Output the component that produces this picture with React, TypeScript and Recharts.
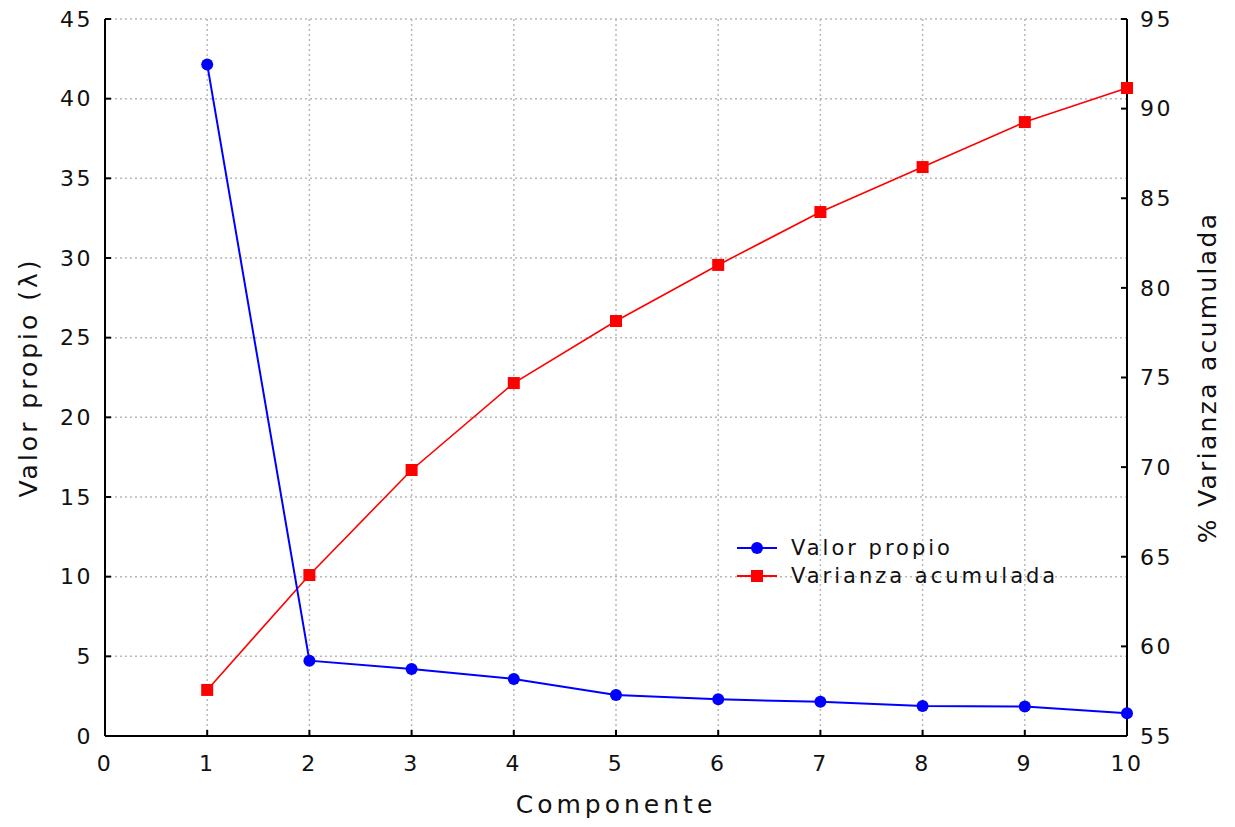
import React from 'react';
import { LineChart, Line, XAxis, YAxis, CartesianGrid, Legend } from 'recharts';

const componentes = [1, 2, 3, 4, 5, 6, 7, 8, 9, 10];
const valorPropio = [42.15, 4.73, 4.2, 3.58, 2.57, 2.3, 2.15, 1.88, 1.85, 1.43];
const varianzaAcumulada = [57.57, 63.98, 69.84, 74.69, 78.15, 81.28, 84.23, 86.74, 89.25, 91.15];
const xTicks = [0, 1, 2, 3, 4, 5, 6, 7, 8, 9, 10];
const leftTicks = [0, 5, 10, 15, 20, 25, 30, 35, 40, 45];
const rightTicks = [55, 60, 65, 70, 75, 80, 85, 90, 95];
const seriesNames = ['Valor propio', 'Varianza acumulada'];
const xLabel = 'Componente';
const leftLabel = 'Valor propio (λ)';
const rightLabel = '% Varianza acumulada';

const data = componentes.map((c, i) => ({
  c,
  valor: valorPropio[i],
  varianza: varianzaAcumulada[i],
}));

const FONT = '"DejaVu Sans", Verdana, sans-serif';
const tickStyle = { fontSize: 22, fill: '#111', fontFamily: FONT, letterSpacing: 2.5 };

const BlueDot = (props: any) => {
  const { cx, cy } = props;
  if (cx == null || cy == null) return null;
  return <circle key={`b${cx}`} cx={cx} cy={cy} r={6} fill="#0000ff" stroke="none" />;
};

const RedDot = (props: any) => {
  const { cx, cy } = props;
  if (cx == null || cy == null) return null;
  return <rect key={`r${cx}`} x={cx - 6} y={cy - 6} width={12} height={12} fill="#ff0000" stroke="none" />;
};

const XLabel = (props: any) => {
  const { viewBox } = props;
  const cx = viewBox.x + viewBox.width / 2;
  return (
    <text x={cx} y={viewBox.y + 77} textAnchor="middle" fontSize={25} fontFamily={FONT} fill="#111" letterSpacing={4}>
      {xLabel}
    </text>
  );
};

const LeftLabel = (props: any) => {
  const { viewBox } = props;
  const cy = viewBox.y + viewBox.height / 2;
  const cx = 28;
  return (
    <text x={cx} y={cy} transform={`rotate(-90 ${cx} ${cy})`} textAnchor="middle" dominantBaseline="central" fontSize={25} fontFamily={FONT} fill="#111" letterSpacing={3}>
      {leftLabel}
    </text>
  );
};

const RightLabel = (props: any) => {
  const { viewBox } = props;
  const cy = viewBox.y + viewBox.height / 2;
  const cx = 1207;
  return (
    <text x={cx} y={cy} transform={`rotate(-90 ${cx} ${cy})`} textAnchor="middle" dominantBaseline="central" fontSize={25} fontFamily={FONT} fill="#111" letterSpacing={2.3}>
      {rightLabel}
    </text>
  );
};

const LegendContent = () => {
  const items = [
    { name: seriesNames[0], color: '#0000ff', shape: 'circle' },
    { name: seriesNames[1], color: '#ff0000', shape: 'square' },
  ];
  return (
    <div style={{ fontFamily: FONT, fontSize: 21, letterSpacing: 3, color: '#111' }}>
      {items.map((it) => (
        <div key={it.name} style={{ display: 'flex', alignItems: 'center', height: 28 }}>
          <svg width={48} height={20} style={{ marginRight: 8 }}>
            <line x1={2} y1={10} x2={42} y2={10} stroke={it.color} strokeWidth={2} />
            {it.shape === 'circle' ? (
              <circle cx={22} cy={10} r={6} fill={it.color} />
            ) : (
              <rect x={16} y={4} width={12} height={12} fill={it.color} />
            )}
          </svg>
          <span>{it.name}</span>
        </div>
      ))}
    </div>
  );
};

export default function App() {
  return (
    <div style={{ position: 'absolute', left: 0, top: 0, background: '#fff' }}>
      <LineChart width={1235} height={827} data={data} margin={{ top: 19, right: 0, bottom: 0, left: 0 }}>
        <CartesianGrid
          xAxisId="bottom"
          yAxisId="left"
          stroke="#b8b8b8"
          strokeDasharray="2 3"
          strokeWidth={1.5}
        />
        <XAxis
          xAxisId="bottom"
          dataKey="c"
          type="number"
          domain={[0, 10]}
          ticks={xTicks}
          interval={0}
          height={91}
          axisLine={{ stroke: '#000', strokeWidth: 2 }}
          tickLine={{ stroke: '#000', strokeWidth: 2 }}
          tickSize={-6}
          tickMargin={25}
          tick={tickStyle}
          label={<XLabel />}
        />
        <XAxis
          xAxisId="top"
          orientation="top"
          dataKey="c"
          type="number"
          domain={[0, 10]}
          ticks={xTicks}
          interval={0}
          height={0}
          axisLine={{ stroke: '#000', strokeWidth: 2 }}
          tickLine={{ stroke: '#000', strokeWidth: 2 }}
          tickSize={-6}
          tickFormatter={() => ''}
        />
        <YAxis
          yAxisId="left"
          orientation="left"
          domain={[0, 45]}
          ticks={leftTicks}
          interval={0}
          width={105}
          axisLine={{ stroke: '#000', strokeWidth: 2 }}
          tickLine={{ stroke: '#000', strokeWidth: 2 }}
          tickSize={-6}
          tickMargin={18}
          tick={tickStyle}
          label={<LeftLabel />}
        />
        <YAxis
          yAxisId="right"
          orientation="right"
          domain={[55, 95]}
          ticks={rightTicks}
          interval={0}
          width={108}
          axisLine={{ stroke: '#000', strokeWidth: 2 }}
          tickLine={{ stroke: '#000', strokeWidth: 2 }}
          tickSize={-6}
          tickMargin={19}
          tick={tickStyle}
          label={<RightLabel />}
        />
        <Legend
          content={<LegendContent />}
          layout="vertical"
          align="center"
          verticalAlign="middle"
          wrapperStyle={{ position: 'absolute', left: 735, top: 534, width: 400 }}
        />
        <Line
          xAxisId="bottom"
          yAxisId="right"
          dataKey="varianza"
          name={seriesNames[1]}
          stroke="#ff0000"
          strokeWidth={1.6}
          dot={<RedDot />}
          activeDot={false}
          isAnimationActive={false}
        />
        <Line
          xAxisId="bottom"
          yAxisId="left"
          dataKey="valor"
          name={seriesNames[0]}
          stroke="#0000ff"
          strokeWidth={2}
          dot={<BlueDot />}
          activeDot={false}
          isAnimationActive={false}
        />
      </LineChart>
    </div>
  );
}
